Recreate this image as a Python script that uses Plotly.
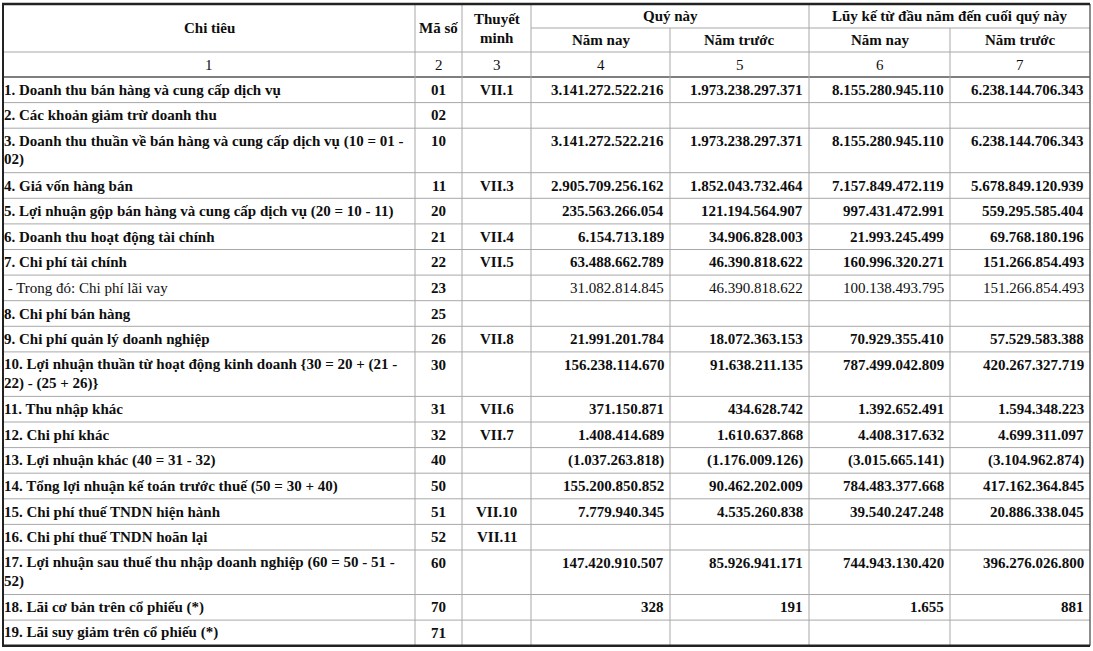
import plotly.graph_objects as go

# Báo cáo kết quả hoạt động kinh doanh - dữ liệu đọc từ bảng
chi_tieu = [
    "1. Doanh thu bán hàng và cung cấp dịch vụ",
    "2. Các khoản giảm trừ doanh thu",
    "3. Doanh thu thuần về bán hàng và cung cấp dịch vụ (10 = 01 -\n02)",
    "4. Giá vốn hàng bán",
    "5. Lợi nhuận gộp bán hàng và cung cấp dịch vụ (20 = 10 - 11)",
    "6. Doanh thu hoạt động tài chính",
    "7. Chi phí tài chính",
    " - Trong đó: Chi phí lãi vay",
    "8. Chi phí bán hàng",
    "9. Chi phí quản lý doanh nghiệp",
    "10. Lợi nhuận thuần từ hoạt động kinh doanh {30 = 20 + (21 -\n22) - (25 + 26)}",
    "11. Thu nhập khác",
    "12. Chi phí khác",
    "13. Lợi nhuận khác (40 = 31 - 32)",
    "14. Tổng lợi nhuận kế toán trước thuế (50 = 30 + 40)",
    "15. Chi phí thuế TNDN hiện hành",
    "16. Chi phí thuế TNDN hoãn lại",
    "17. Lợi nhuận sau thuế thu nhập doanh nghiệp (60 = 50 - 51 -\n52)",
    "18. Lãi cơ bản trên cổ phiếu (*)",
    "19. Lãi suy giảm trên cổ phiếu (*)",
]
ma_so = ["01", "02", "10", "11", "20", "21", "22", "23", "25", "26",
         "30", "31", "32", "40", "50", "51", "52", "60", "70", "71"]
thuyet_minh = ["VII.1", "", "", "VII.3", "", "VII.4", "VII.5", "", "", "VII.8",
               "", "VII.6", "VII.7", "", "", "VII.10", "VII.11", "", "", ""]
quy_nam_nay = [
    "3.141.272.522.216", "", "3.141.272.522.216", "2.905.709.256.162",
    "235.563.266.054", "6.154.713.189", "63.488.662.789", "31.082.814.845",
    "", "21.991.201.784", "156.238.114.670", "371.150.871", "1.408.414.689",
    "(1.037.263.818)", "155.200.850.852", "7.779.940.345", "",
    "147.420.910.507", "328", "",
]
quy_nam_truoc = [
    "1.973.238.297.371", "", "1.973.238.297.371", "1.852.043.732.464",
    "121.194.564.907", "34.906.828.003", "46.390.818.622", "46.390.818.622",
    "", "18.072.363.153", "91.638.211.135", "434.628.742", "1.610.637.868",
    "(1.176.009.126)", "90.462.202.009", "4.535.260.838", "",
    "85.926.941.171", "191", "",
]
luy_ke_nam_nay = [
    "8.155.280.945.110", "", "8.155.280.945.110", "7.157.849.472.119",
    "997.431.472.991", "21.993.245.499", "160.996.320.271", "100.138.493.795",
    "", "70.929.355.410", "787.499.042.809", "1.392.652.491", "4.408.317.632",
    "(3.015.665.141)", "784.483.377.668", "39.540.247.248", "",
    "744.943.130.420", "1.655", "",
]
luy_ke_nam_truoc = [
    "6.238.144.706.343", "", "6.238.144.706.343", "5.678.849.120.939",
    "559.295.585.404", "69.768.180.196", "151.266.854.493", "151.266.854.493",
    "", "57.529.583.388", "420.267.327.719", "1.594.348.223", "4.699.311.097",
    "(3.104.962.874)", "417.162.364.845", "20.886.338.045", "",
    "396.276.026.800", "881", "",
]
so_cot = ["1", "2", "3", "4", "5", "6", "7"]
dong_thuong = [7]  # dòng "Trong đó" không in đậm

W, H = 1093, 651
x_cot = [3, 415, 462, 531, 670, 809, 950, 1090]
y_header = [4, 28, 52, 77]
h_dong = 25.6
h_them = 18.9
FONT = "Liberation Serif"
SIZE = 15
MAU = "#0e0e0e"
LUOI = "#a8a8a8"

ann = []
shapes = []


def chu(x, y, text, xanchor="center", bold=True):
    ann.append(dict(
        x=x, y=y, xref="x", yref="y", text=text, showarrow=False,
        xanchor=xanchor, yanchor="middle",
        font=dict(family=FONT, size=SIZE, color=MAU,
                  weight="bold" if bold else "normal"),
    ))


def ke(x0, y0, x1, y1, color=LUOI, width=1):
    shapes.append(dict(type="line", xref="x", yref="y", x0=x0, y0=y0,
                       x1=x1, y1=y1, line=dict(color=color, width=width)))


# tiêu đề
giua = [(x_cot[i] + x_cot[i + 1]) / 2 for i in range(7)]
y_td = (y_header[0] + y_header[2]) / 2
chu(giua[0], y_td, "Chi tiêu")
chu(giua[1], y_td, "Mã số")
chu(giua[2], y_td - 9.5, "Thuyết")
chu(giua[2], y_td + 9.5, "minh")
chu((x_cot[3] + x_cot[5]) / 2, (y_header[0] + y_header[1]) / 2, "Quý này")
chu((x_cot[5] + x_cot[7]) / 2, (y_header[0] + y_header[1]) / 2,
    "Lũy kế từ đầu năm đến cuối quý này")
for i, t in zip([3, 4, 5, 6], ["Năm nay", "Năm trước", "Năm nay", "Năm trước"]):
    chu(giua[i], (y_header[1] + y_header[2]) / 2, t)
for i, t in enumerate(so_cot):
    chu(giua[i], (y_header[2] + y_header[3]) / 2, t, bold=False)

# thân bảng
y = y_header[3]
y_ke = []
cot_so = [quy_nam_nay, quy_nam_truoc, luy_ke_nam_nay, luy_ke_nam_truoc]
for i, ten in enumerate(chi_tieu):
    dong = ten.split("\n")
    h = h_dong + h_them * (len(dong) - 1)
    dam = i not in dong_thuong
    yc = y + h_dong / 2
    for k, d in enumerate(dong):
        chu(x_cot[0] - 1, yc + k * h_them, d, xanchor="left", bold=dam)
    chu(giua[1], yc, ma_so[i])
    if thuyet_minh[i]:
        chu(giua[2], yc, thuyet_minh[i])
    for j, c in enumerate(cot_so):
        if c[i]:
            chu(x_cot[4 + j] - 4, yc, c[i], xanchor="right", bold=dam)
    y += h
    y_ke.append(y)
y_day = y

# đường kẻ
ke(x_cot[3], y_header[1], x_cot[7], y_header[1])
ke(x_cot[0], y_header[2], x_cot[7], y_header[2])
ke(x_cot[0], y_header[3], x_cot[7], y_header[3], color="#555555", width=1.5)
for yy in y_ke[:-1]:
    ke(x_cot[0], yy, x_cot[7], yy)
for i in [1, 2, 3, 5]:
    ke(x_cot[i], y_header[0], x_cot[i], y_day)
for i in [4, 6]:
    ke(x_cot[i], y_header[1], x_cot[i], y_day)
ke(x_cot[7], y_header[0], x_cot[7], y_day, color="#666666", width=1.5)
ke(x_cot[0], y_header[0], x_cot[0], y_day, color="#222222", width=2)
ke(x_cot[0] - 1, y_header[0], x_cot[7], y_header[0], color="#222222", width=2.5)
ke(x_cot[0] - 1, y_day, x_cot[7], y_day, color="#222222", width=2.5)

fig = go.Figure()
fig.update_layout(
    width=W, height=H,
    margin=dict(l=0, r=0, t=0, b=0),
    paper_bgcolor="white", plot_bgcolor="white",
    xaxis=dict(range=[0, W], visible=False, fixedrange=True),
    yaxis=dict(range=[H, 0], visible=False, fixedrange=True),
    annotations=ann, shapes=shapes,
    showlegend=False,
)

# bỏ lề mặc định 8px của trang
fig.write_html("out.html", config={"displayModeBar": False},
               post_script="document.body.style.margin='0';")
